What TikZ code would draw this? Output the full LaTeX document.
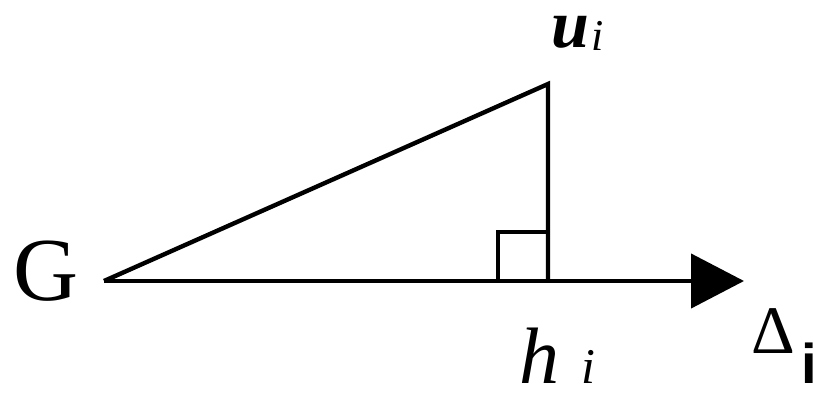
\documentclass[tikz,border=0pt]{standalone}
\usepackage{fontspec}
\setmainfont{Liberation Serif}
\newfontfamily\labelsans{Liberation Sans}
\usetikzlibrary{positioning,arrows.meta}

\begin{document}
\begin{tikzpicture}[
      x=0.5pt, y=-0.5pt,
      edge/.style={line width=2.2pt, line join=miter},
      arr/.style={edge, -{Triangle[length=26.5pt, width=27pt]}},
      lbl/.style={inner sep=1pt, outer sep=0pt, anchor=base west}]
    \useasboundingbox (0,0) rectangle (814,396);
    \coordinate (g) at (104,281);
    \coordinate (top) at (548,84);
    \coordinate (foot) at (548,281);
    \coordinate (tip) at (744,281);
    \coordinate (sqa) at (498,281);
    \coordinate (sqb) at (498,232);
    \coordinate (sqc) at (548,232);
    % triangle and axis
    \draw[edge] (g) -- (top) -- (foot);
    \draw[arr] (g) -- (tip);
    \draw[edge, line width=2pt] (sqa) -- (sqb) -- (sqc);
    % labels
    \node[lbl] (glbl) at (11,300) {\fontsize{45}{45}\selectfont G};
    \node[lbl] (ulbl) at (549,47) {\fontsize{34}{34}\selectfont\bfseries\itshape u\/};
    \node[lbl] (uidx) at (589,50) {\fontsize{22}{22}\selectfont\itshape i\/};
    \node[lbl] (hlbl) at (517,383) {\fontsize{40}{40}\selectfont\itshape h\/};
    \node[lbl] (hidx) at (579,383) {\fontsize{25}{25}\selectfont\itshape i\/};
    \node[lbl] (dlbl) at (749,353) {\fontsize{34}{34}\selectfont Δ};
    \node[lbl] (didx) at (799,383) {\fontsize{28}{28}\selectfont\labelsans\bfseries i};
  \end{tikzpicture}
\end{document}
